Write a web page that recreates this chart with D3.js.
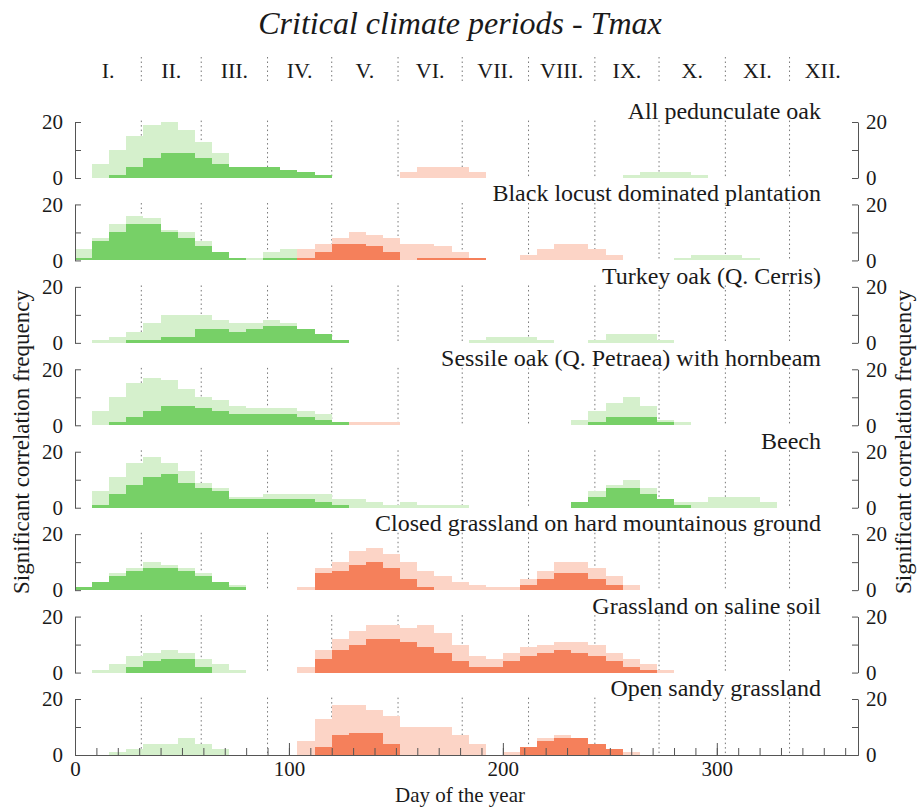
<!DOCTYPE html>
<html>
<head>
<meta charset="utf-8">
<script src="https://cdn.jsdelivr.net/npm/d3@7"></script>
<style>
  body { margin: 0; background: #fff; }
  text { font-family: "Liberation Serif", "DejaVu Serif", serif; fill: #1a1a1a; }
</style>
</head>
<body>
<div class="chart"></div>
<script>
// set the dimensions of the graph
var width = 921,
    height = 809

// the data: counts in 8 day bins
var binWidth = 8
var panelNames = ["All pedunculate oak", "Black locust dominated plantation", "Turkey oak (Q. Cerris)",
  "Sessile oak (Q. Petraea) with hornbeam", "Beech", "Closed grassland on hard mountainous ground",
  "Grassland on saline soil", "Open sandy grassland"]
var monthLabels = ["I.", "II.", "III.", "IV.", "V.", "VI.", "VII.", "VIII.", "IX.", "X.", "XI.", "XII."]
var monthStarts = [0, 31, 59, 90, 120, 151, 181, 212, 243, 273, 304, 334, 365]
var dayTicks = [0, 100, 200, 300]
var freqTicks = [0, 10, 20]

// each segment: [day the first bin starts, count, count, ...] - one list of segments per panel
var greenAll = [
  [[8, 5, 10, 15, 19, 20, 17, 13, 9, 4, 4, 4, 3, 2, 1], [256, 1, 2, 2, 2, 1]],
  [[0, 4, 8, 13, 16, 15, 11, 10, 7, 3, 1, 1, 3, 4, 4, 2], [280, 1, 2, 2, 2, 1]],
  [[8, 1, 2, 4, 7, 10, 10, 10, 8, 7, 7, 8, 7, 5, 3, 1], [184, 1, 2, 2, 2, 1], [240, 1, 3, 3, 3, 1]],
  [[8, 5, 10, 15, 17, 16, 13, 10, 9, 7, 6, 6, 6, 5, 4, 1], [232, 2, 5, 8, 10, 7, 2, 1]],
  [[8, 6, 11, 16, 18, 16, 13, 9, 7, 4, 4, 5, 5, 5, 5, 3, 3, 2, 1, 2, 1, 1, 1], [232, 2, 6, 8, 10, 7, 3, 2, 2, 4, 4, 4, 2]],
  [[0, 1, 3, 6, 8, 10, 9, 8, 6, 3, 2]],
  [[8, 1, 3, 6, 7, 8, 7, 5, 3, 1]],
  [[16, 1, 2, 4, 4, 6, 4, 2]]
]
var greenStrict = [
  [[16, 1, 4, 7, 9, 9, 7, 5, 4, 4, 4, 3, 2, 1]],
  [[0, 1, 7, 10, 13, 13, 10, 8, 5, 3, 1, 0, 1, 1, 0, 1]],
  [[24, 1, 1, 2, 2, 5, 5, 4, 5, 6, 6, 5, 3, 1]],
  [[16, 1, 3, 5, 7, 7, 6, 5, 4, 4, 4, 4, 3, 2, 1], [240, 1, 3, 3, 3, 1]],
  [[8, 1, 5, 8, 11, 12, 9, 7, 6, 3, 3, 3, 3, 3, 2, 1], [232, 2, 4, 7, 7, 5, 3, 1]],
  [[0, 1, 3, 5, 7, 8, 8, 7, 5, 3, 1]],
  [[24, 2, 4, 5, 5, 2]],
  []
]
var redAll = [
  [[152, 2, 4, 4, 4, 2]],
  [[104, 4, 6, 8, 10, 9, 8, 6, 6, 5, 3, 1], [208, 2, 4, 6, 6, 4, 2]],
  [],
  [[128, 1, 1, 1]],
  [],
  [[104, 1, 8, 10, 14, 15, 13, 10, 7, 5, 3, 2, 1], [200, 1, 4, 7, 10, 10, 8, 5, 2]],
  [[104, 2, 8, 12, 15, 17, 17, 16, 17, 14, 10, 6, 5, 7, 9, 10, 11, 11, 10, 7, 5, 3, 1]],
  [[104, 5, 13, 18, 18, 16, 14, 10, 10, 10, 7, 4], [200, 1, 3, 6, 7, 6, 4, 2, 1]]
]
var redStrict = [
  [],
  [[104, 1, 3, 6, 6, 5, 3, 0, 1, 1, 1, 1]],
  [],
  [],
  [],
  [[112, 6, 7, 9, 10, 8, 4, 1], [208, 2, 4, 6, 6, 4, 2]],
  [[112, 5, 8, 10, 12, 12, 11, 9, 7, 4, 2, 2, 4, 6, 7, 8, 7, 6, 4, 2, 1]],
  [[112, 3, 7, 8, 8, 4], [208, 3, 5, 6, 6, 4, 2]]
]

var colors = { greenAll: "#d5f0cc", redAll: "#fcd4c6", greenStrict: "#77d067", redStrict: "#f5805b" }

var svg = d3.select(".chart")
  .append("svg")
    .attr("width", width)
    .attr("height", height)

var x = d3.scaleLinear().domain([0, 366]).range([75, 858])

// the panels stack from top to bottom
var firstBase = 178, panelStep = 82.43, panelHeight = 56

// turn segments into bins
function toBins(segments) {
  var bins = []
  segments.forEach(function(s) {
    for (var j = 1; j < s.length; j++) {
      bins.push({ day: s[0] + (j - 1) * binWidth, value: s[j] })
    }
  })
  return bins.filter(function(b) { return b.value > 0 })
}

// title
svg.append("text")
  .attr("x", 460).attr("y", 34)
  .attr("text-anchor", "middle")
  .style("font-style", "italic")
  .style("font-size", "32px")
  .text("Critical climate periods - Tmax")

// months row
svg.selectAll(".month")
  .data(monthLabels)
  .enter()
  .append("text")
    .attr("x", function(d, i) { return x((monthStarts[i] + monthStarts[i + 1]) / 2) })
    .attr("y", 78)
    .attr("text-anchor", "middle")
    .style("font-size", "22px")
    .text(function(d) { return d })

svg.selectAll(".monthline")
  .data(monthStarts.slice(1, 12))
  .enter()
  .append("line")
    .attr("x1", function(d) { return x(d) }).attr("x2", function(d) { return x(d) })
    .attr("y1", 57).attr("y2", 84)
    .attr("stroke", "#777").attr("stroke-dasharray", "1.5,3")

panelNames.forEach(function(name, i) {
  var base = firstBase + i * panelStep
  var y = d3.scaleLinear().domain([0, 20]).range([base, base - panelHeight])
  var g = svg.append("g")

  // dotted month lines
  g.selectAll("line.m")
    .data(monthStarts.slice(1, 12))
    .enter()
    .append("line")
      .attr("x1", function(d) { return x(d) }).attr("x2", function(d) { return x(d) })
      .attr("y1", y(20.5)).attr("y2", y(0))
      .attr("stroke", "#777").attr("stroke-dasharray", "1.5,3")

  // bars: light ones first, strong ones on top
  var layers = [["greenAll", greenAll], ["redAll", redAll], ["greenStrict", greenStrict], ["redStrict", redStrict]]
  layers.forEach(function(l) {
    g.append("g")
      .selectAll("rect")
      .data(toBins(l[1][i]))
      .enter()
      .append("rect")
        .attr("x", function(d) { return x(d.day) })
        .attr("width", function(d) { return x(d.day + binWidth) - x(d.day) })
        .attr("y", function(d) { return y(d.value) })
        .attr("height", function(d) { return y(0) - y(d.value) })
        .attr("fill", colors[l[0]])
        .attr("shape-rendering", "crispEdges")
  })

  // left and right brackets
  var left = d3.axisLeft(y).tickValues(freqTicks).tickSizeInner(-6).tickSizeOuter(0).tickPadding(12)
    .tickFormat(function(d) { return d == 10 ? "" : d })
  var right = d3.axisRight(y).tickValues(freqTicks).tickSizeInner(-6).tickSizeOuter(0).tickPadding(8)
    .tickFormat(function(d) { return d == 10 ? "" : d })
  g.append("g").attr("transform", "translate(" + x(0) + ",0)").call(left)
  g.append("g").attr("transform", "translate(" + x(366) + ",0)").call(right)

  // panel name
  g.append("text")
    .attr("x", 821).attr("y", y(20) - 3)
    .attr("text-anchor", "end")
    .style("font-size", "24px")
    .text(name)

  // the last panel gets the day axis
  if (i == panelNames.length - 1) {
    var minor = d3.axisBottom(x).tickValues(d3.range(0, 366, 10)).tickSizeInner(-7).tickSizeOuter(0).tickFormat("")
    var major = d3.axisBottom(x).tickValues(dayTicks).tickSizeInner(-12).tickSizeOuter(0).tickPadding(6)
    g.append("g").attr("transform", "translate(0," + base + ")").call(minor)
    g.append("g").attr("transform", "translate(0," + base + ")").call(major)
  }
})

svg.selectAll(".domain").attr("stroke", "#555")
svg.selectAll(".tick line").attr("stroke", "#555")
svg.selectAll(".tick text").style("font-size", "21px").style("font-family", "Liberation Serif, serif").attr("fill", "#1a1a1a")

// axis titles
svg.append("text")
  .attr("x", 460).attr("y", 802)
  .attr("text-anchor", "middle")
  .style("font-size", "21px")
  .text("Day of the year")

svg.append("text")
  .attr("transform", "translate(29,442) rotate(-90)")
  .attr("text-anchor", "middle")
  .style("font-size", "23px")
  .text("Significant correlation frequency")

svg.append("text")
  .attr("transform", "translate(911,442) rotate(-90)")
  .attr("text-anchor", "middle")
  .style("font-size", "23px")
  .text("Significant correlation frequency")
</script>
</body>
</html>
